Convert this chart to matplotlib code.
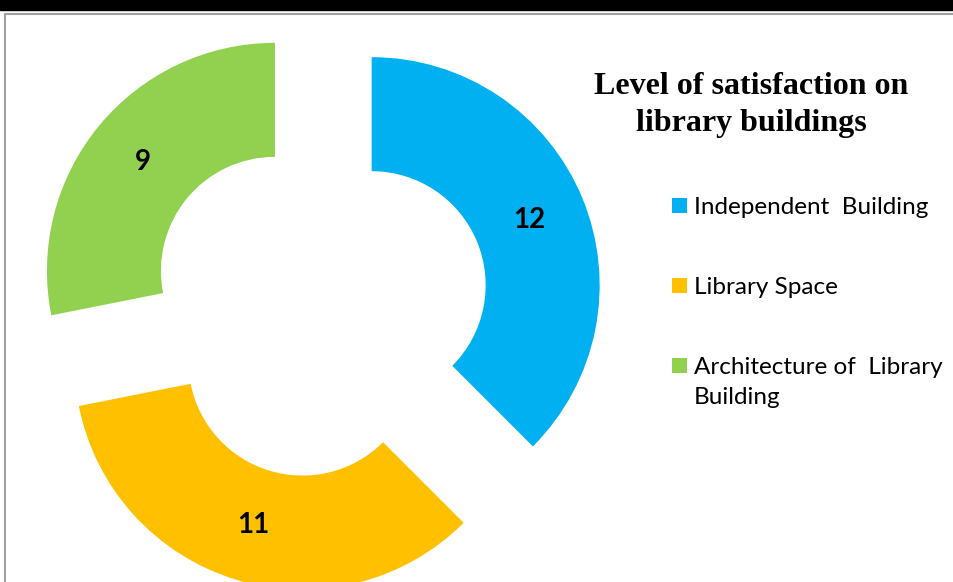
import matplotlib
matplotlib.use("Agg")
import matplotlib.pyplot as plt
from matplotlib.patches import Rectangle

categories = ["Independent  Building", "Library Space", "Architecture of  Library\nBuilding"]
values = [12, 11, 9]
colors = ["#00B0F0", "#FFC000", "#92D050"]
title = "Level of satisfaction on\nlibrary buildings"

W, H = 954, 582
fig = plt.figure(figsize=(W / 100, H / 100), dpi=100)
ax = fig.add_axes([0, 0, 1, 1])

total = sum(values)
R = 228
wedges, texts, autotexts = ax.pie(
    values, colors=colors, startangle=90, counterclock=False,
    radius=R, center=(319, H - 307), explode=[57] * len(values),
    wedgeprops=dict(width=114, linewidth=0),
    autopct=lambda p: f"{round(p * total / 100)}", pctdistance=0.75,
    textprops=dict(fontfamily="Lato", fontweight="bold", fontsize=20, color="black"),
)
ax.set_xlim(0, W)
ax.set_ylim(0, H)
ax.set_aspect("equal")
ax.axis("off")

# frame: thick black band at top, thin grey border
ax.add_patch(Rectangle((0, H - 10), W, 10, color="black", zorder=5, clip_on=False))
ax.plot([5.5, 5.5, W + 5], [-5, H - 13.5, H - 13.5], color="#A0A0A0", lw=1.5, zorder=5,
        solid_capstyle="butt")

ax.text(751, H - 105, title, ha="center", va="center", fontfamily="Liberation Serif",
        fontweight="bold", fontsize=23, linespacing=1.4, color="black")

rows = [205, 285, 365]
for cat, col, ry in zip(categories, colors, rows):
    ax.add_patch(Rectangle((672, H - ry - 7.5), 15, 15, color=col, lw=0))
    ax.text(694, H - ry + 8, cat, ha="left", va="top", fontfamily="Lato",
            fontsize=17.5, linespacing=1.55, color="black")

fig.savefig("out.png", dpi=100)
